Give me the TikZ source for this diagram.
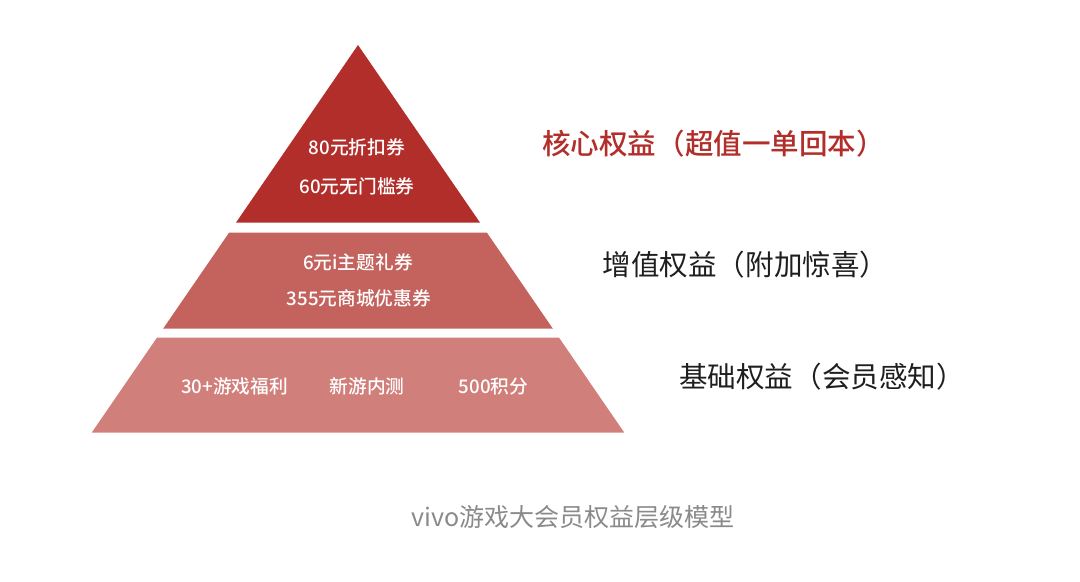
\documentclass[tikz,border=0pt]{standalone}
\usepackage{fontspec}
\setmainfont{Noto Sans CJK SC}
\newfontfamily\cjkmed{Noto Sans CJK SC Medium}
\usetikzlibrary{positioning}
\definecolor{crimson}{RGB}{178,46,42}
\definecolor{rosewood}{RGB}{196,99,94}
\definecolor{blush}{RGB}{209,127,123}
\definecolor{ink}{RGB}{30,30,30}
\definecolor{mist}{RGB}{138,138,138}
\tikzset{
  perk/.style={text=white,inner sep=0pt,font=\cjkmed\fontsize{13.3}{15}\selectfont},
  tag/.style={text=#1,anchor=west,inner sep=0pt,font=\fontsize{20.3}{23}\selectfont},
  tag/.default=ink,
  caption/.style={text=mist,inner sep=0pt,font=\fontsize{17.8}{20}\selectfont},
}
\begin{document}
\begin{tikzpicture}[x=0.025cm,y=-0.025cm]
    \useasboundingbox (0,0) rectangle (1080,581);
    % three slices of one triangle, apex at (358,45)
    \foreach \ya/\yb/\c [count=\k] in {45/222.5/crimson,232.5/328.5/rosewood,337.5/432.5/blush}{
      \fill[\c] ({358-0.687*(\ya-45)},\ya) -- ({358+0.687*(\ya-45)},\ya)
        -- ({358+0.687*(\yb-45)},\yb) -- ({358-0.687*(\yb-45)},\yb) -- cycle;
    }
    \node[perk] (core1) at (357,147.5) {80元折扣券};
    \node[perk] (core2) at (357,186.5) {60元无门槛券};
    \node[perk] (plus1) at (358,262) {6元i主题礼券};
    \node[perk] (plus2) at (359,298.5) {355元商城优惠券};
    \foreach \x/\t [count=\k] in {234.5/30+游戏福利,367/新游内测,493.5/500积分}
      \node[perk] (base\k) at (\x,386.5) {\t};
    \node[tag=crimson,font=\cjkmed\fontsize{20.3}{23}\selectfont] (coretag) at (542,143.5) {核心权益（超值一单回本）};
    \node[tag] (plustag) at (602.5,265) {增值权益（附加惊喜）};
    \node[tag] (basetag) at (679,377) {基础权益（会员感知）};
    \node[caption] (title) at (573,517) {vivo游戏大会员权益层级模型};
  \end{tikzpicture}
\end{document}
